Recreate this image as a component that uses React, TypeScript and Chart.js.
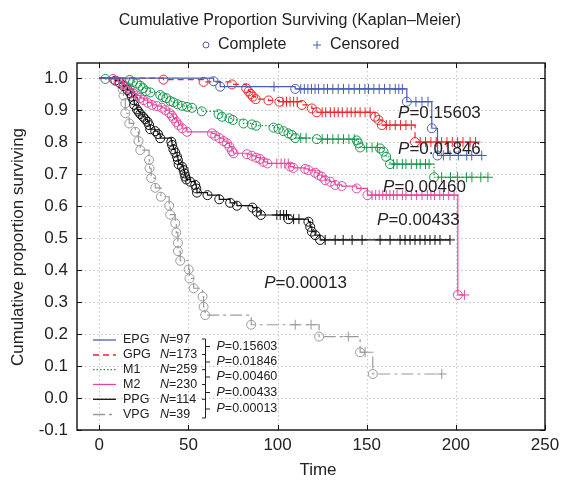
import { useEffect, useRef } from "react";
import { Chart, registerables } from "chart.js";

Chart.register(...registerables);

const FONT = '"Liberation Sans", Arial, Helvetica, sans-serif';

// ---------- axis ticks ----------
const xTicks = [0, 50, 100, 150, 200, 250];
const yTicks = [-0.1, 0.0, 0.1, 0.2, 0.3, 0.4, 0.5, 0.6, 0.7, 0.8, 0.9, 1.0];

// ---------- groups ----------
const groupNames = ["EPG", "GPG", "M1", "M2", "PPG", "VPG"];
const groupN = [97, 173, 259, 230, 114, 39];
const pValues = ["0.15603", "0.01846", "0.00460", "0.00433", "0.00013"];

// EPG
const epgEventT = [64.1, 67.8, 109.9, 172.5, 186.5, 189.7];
const epgEventS = [0.99, 0.973, 0.966, 0.926, 0.843, 0.758];
const epgCensT = [98, 113, 115, 117, 119, 121, 123, 126, 128, 131, 134, 137, 140, 143, 146, 149, 151, 154, 157, 160, 163, 166, 168, 170, 177.6, 181, 184.4, 193, 196.7, 201.4, 206.1, 208.9, 214.5];

// GPG
const gpgEventT = [36.0, 58.5, 74.4, 82.4, 83.7, 84.9, 86.2, 87.7, 94.9, 101.0, 113.6, 119.2, 122.0, 154.7, 156.6, 158.5, 177.1];
const gpgEventS = [0.995, 0.988, 0.98, 0.968, 0.958, 0.95, 0.942, 0.934, 0.93, 0.926, 0.916, 0.905, 0.893, 0.879, 0.869, 0.853, 0.8];
const gpgCensT = [103, 105, 107, 109, 111, 125, 127, 129.6, 131.8, 134, 136.3, 139, 141.3, 143.5, 146.3, 149.1, 151.9, 161, 163, 166, 169, 172, 175, 180, 183, 186, 189, 192, 195, 198, 201, 204, 208, 211];

// M1
const m1EventT = [3.4, 17.0, 18.9, 21.1, 23.0, 24.5, 26.3, 28.6, 34.2, 35.7, 37.6, 39.8, 41.6, 43.9, 46.4, 49.2, 52.0, 57.5, 66.9, 68.8, 73.0, 74.9, 80.9, 85.6, 88.0, 97.7, 100.5, 103.3, 106.1, 108.0, 109.9, 122.0, 144.4, 145.3, 146.3, 157.5, 159.4, 160.9, 163.1, 187.8];
const m1EventS = [0.997, 0.994, 0.988, 0.983, 0.976, 0.968, 0.959, 0.955, 0.947, 0.94, 0.937, 0.928, 0.924, 0.918, 0.913, 0.91, 0.907, 0.896, 0.887, 0.879, 0.874, 0.869, 0.858, 0.855, 0.851, 0.845, 0.841, 0.834, 0.827, 0.822, 0.8125, 0.809, 0.805, 0.796, 0.783, 0.78, 0.77, 0.754, 0.731, 0.69];
const m1CensT = [113, 116, 125, 128, 131, 134, 137, 140, 143, 150, 153, 156, 165, 167, 170, 172, 175, 178, 180, 183, 185, 192, 197, 201, 206, 209, 214, 218];

// M2
const m2EventT = [7.7, 10.8, 13.6, 15.5, 17.0, 19.2, 21.1, 23.0, 24.8, 27.1, 29.5, 32.3, 35.1, 37.0, 39.4, 40.8, 41.6, 43.2, 44.5, 46.4, 49.2, 63.2, 65.0, 67.4, 69.7, 71.6, 73.0, 74.4, 75.3, 82.8, 85.6, 88.0, 90.2, 92.1, 94.3, 107.1, 108.9, 115.5, 117.3, 121.1, 122.9, 124.8, 126.7, 129.5, 132.3, 136.0, 144.4, 150.4, 201.1];
const m2EventS = [0.997, 0.988, 0.98, 0.973, 0.966, 0.952, 0.945, 0.938, 0.931, 0.923, 0.916, 0.9125, 0.907, 0.9, 0.89, 0.882, 0.874, 0.863, 0.853, 0.843, 0.832, 0.827, 0.82, 0.812, 0.803, 0.796, 0.785, 0.772, 0.765, 0.762, 0.757, 0.751, 0.747, 0.738, 0.733, 0.723, 0.719, 0.716, 0.7125, 0.704, 0.697, 0.692, 0.681, 0.676, 0.666, 0.6625, 0.655, 0.634, 0.322];
const m2CensT = [99.6, 102, 104, 106, 153, 155, 157, 159, 161, 163, 165, 167, 170, 172, 175, 178, 181, 184, 186, 188, 191, 193, 196, 199, 204.8];

// PPG
const ppgEventT = [9.0, 11.4, 13.6, 15.9, 17.4, 18.3, 19.2, 19.6, 21.1, 22.0, 23.0, 24.5, 25.8, 27.1, 28.0, 28.6, 31.4, 32.9, 34.2, 40.4, 40.8, 41.6, 42.6, 43.6, 44.1, 44.5, 46.4, 47.3, 47.8, 48.2, 48.8, 51.0, 53.8, 54.4, 54.8, 60.7, 67.3, 73.4, 77.2, 85.9, 88.4, 90.6, 106.1, 117.3, 118.3, 119.2, 121.1, 123.9];
const ppgEventS = [0.992, 0.985, 0.975, 0.9625, 0.952, 0.942, 0.931, 0.916, 0.902, 0.895, 0.8875, 0.879, 0.871, 0.863, 0.853, 0.84, 0.834, 0.825, 0.812, 0.801, 0.791, 0.777, 0.767, 0.754, 0.744, 0.73, 0.723, 0.7125, 0.702, 0.692, 0.683, 0.676, 0.666, 0.655, 0.642, 0.634, 0.621, 0.61, 0.601, 0.595, 0.582, 0.572, 0.559, 0.551, 0.535, 0.52, 0.509, 0.494];
const ppgCensT = [99.6, 101.5, 103.4, 105.0, 109, 112, 126.7, 132.3, 136.8, 141.8, 147.4, 157.5, 163.1, 168.7, 171.5, 174.3, 177.1, 179.9, 182.7, 185.5, 188.3, 191.1, 196.7];

// VPG
const vpgEventT = [13.1, 13.6, 14.6, 14.6, 16.8, 20.2, 22.0, 23.0, 27.9, 28.2, 29.1, 31.4, 34.6, 39.2, 39.8, 42.6, 43.2, 44.1, 44.1, 45.4, 50.1, 50.6, 52.9, 57.9, 58.5, 59.4, 85.2, 123.3, 146.3, 153.4];
const vpgEventS = [0.965, 0.946, 0.921, 0.89, 0.858, 0.832, 0.803, 0.775, 0.744, 0.718, 0.6875, 0.657, 0.629, 0.601, 0.573, 0.546, 0.517, 0.485, 0.459, 0.429, 0.402, 0.374, 0.343, 0.317, 0.285, 0.259, 0.229, 0.192, 0.143, 0.075];
const vpgCensT = [109.9, 118.8, 139.7, 149.1, 192.1];

// styles
const groupColors = ["#4a5db5", "#e8262b", "#16974a", "#e2499e", "#111111", "#9a9a9a"];
const groupDash = [[], [6, 4], [1.5, 2], [], [], [12, 4, 3, 4]];

// annotation positions (data coords of left / middle of text)
const pLabelT = [167.6, 167.6, 159.2, 155.8, 92.5];
const pLabelS = [0.891, 0.778, 0.659, 0.556, 0.359];

type Pt = { x: number; y: number; k: number };

function buildCurve(eT: number[], eS: number[], cT: number[]): Pt[] {
  const items: Pt[] = [
    ...eT.map((t, i) => ({ x: t, y: eS[i], k: 1 })),
    ...cT.map((t) => ({ x: t, y: NaN, k: 2 })),
  ].sort((a, b) => a.x - b.x || a.k - b.k);
  const pts: Pt[] = [{ x: 0, y: 1, k: 0 }];
  let level = 1;
  for (const it of items) {
    if (it.k === 1) level = it.y;
    else it.y = level;
    pts.push(it);
  }
  return pts;
}

const curves = [
  buildCurve(epgEventT, epgEventS, epgCensT),
  buildCurve(gpgEventT, gpgEventS, gpgCensT),
  buildCurve(m1EventT, m1EventS, m1CensT),
  buildCurve(m2EventT, m2EventS, m2CensT),
  buildCurve(ppgEventT, ppgEventS, ppgCensT),
  buildCurve(vpgEventT, vpgEventS, vpgCensT),
];

function drawItalicLead(ctx: CanvasRenderingContext2D, lead: string, rest: string, x: number, y: number, size: number) {
  ctx.font = `italic ${size}px ${FONT}`;
  ctx.fillText(lead, x, y);
  const w = ctx.measureText(lead).width;
  ctx.font = `${size}px ${FONT}`;
  ctx.fillText(rest, x + w, y);
}

const decorPlugin = {
  id: "decor",
  beforeDatasetsDraw(chart: any) {
    const ctx: CanvasRenderingContext2D = chart.ctx;
    const { left, right, top, bottom } = chart.chartArea;
    const xs = chart.scales.x;
    const ys = chart.scales.y;
    ctx.save();
    ctx.strokeStyle = "#c4c4c4";
    ctx.lineWidth = 1;
    ctx.setLineDash([1.5, 2.5]);
    for (const v of xTicks) {
      const px = Math.round(xs.getPixelForValue(v)) + 0.5;
      ctx.beginPath();
      ctx.moveTo(px, top);
      ctx.lineTo(px, bottom);
      ctx.stroke();
    }
    for (const v of yTicks) {
      const py = Math.round(ys.getPixelForValue(v)) + 0.5;
      ctx.beginPath();
      ctx.moveTo(left, py);
      ctx.lineTo(right, py);
      ctx.stroke();
    }
    ctx.restore();
  },
  afterDatasetsDraw(chart: any) {
    const ctx: CanvasRenderingContext2D = chart.ctx;
    const { left, right, top, bottom } = chart.chartArea;
    const xs = chart.scales.x;
    const ys = chart.scales.y;
    ctx.save();
    // border
    ctx.setLineDash([]);
    ctx.strokeStyle = "#111";
    ctx.lineWidth = 1.4;
    ctx.strokeRect(left, top, right - left, bottom - top);
    // inward ticks
    ctx.lineWidth = 1;
    const tl = 5;
    for (const v of xTicks) {
      const px = Math.round(xs.getPixelForValue(v)) + 0.5;
      ctx.beginPath();
      ctx.moveTo(px, bottom);
      ctx.lineTo(px, bottom - tl);
      ctx.moveTo(px, top);
      ctx.lineTo(px, top + tl);
      ctx.stroke();
    }
    for (const v of yTicks) {
      const py = Math.round(ys.getPixelForValue(v)) + 0.5;
      ctx.beginPath();
      ctx.moveTo(left, py);
      ctx.lineTo(left + tl, py);
      ctx.moveTo(right, py);
      ctx.lineTo(right - tl, py);
      ctx.stroke();
    }
    // P annotations in the plot
    ctx.fillStyle = "#222";
    ctx.textBaseline = "middle";
    ctx.textAlign = "left";
    pValues.forEach((p, i) => {
      const px = xs.getPixelForValue(pLabelT[i]);
      const py = ys.getPixelForValue(pLabelS[i]);
      drawItalicLead(ctx, "P", "=" + p, px, py, 17);
    });

    // inner legend
    const rowY = [340, 355, 369.7, 384.5, 399.3, 414.5];
    groupNames.forEach((name, i) => {
      const y = rowY[i];
      ctx.strokeStyle = groupColors[i];
      ctx.lineWidth = 1.3;
      ctx.setLineDash(groupDash[i]);
      ctx.beginPath();
      ctx.moveTo(93, y);
      ctx.lineTo(116, y);
      ctx.stroke();
      ctx.setLineDash([]);
      ctx.fillStyle = "#222";
      ctx.font = `12.5px ${FONT}`;
      ctx.fillText(name, 123, y);
      drawItalicLead(ctx, "N", "=" + groupN[i], 160, y, 12.5);
    });
    // bracket
    ctx.strokeStyle = "#222";
    ctx.lineWidth = 1;
    ctx.setLineDash([]);
    const bx = 205.5;
    ctx.beginPath();
    ctx.moveTo(202, 339);
    ctx.lineTo(bx, 339);
    ctx.lineTo(bx, 418);
    ctx.lineTo(202, 418);
    for (const y of [354.5, 369.7, 384.5, 399.3]) {
      ctx.moveTo(202, y);
      ctx.lineTo(bx, y);
    }
    const pRowY = [346.5, 362, 377, 392.5, 409];
    for (const y of pRowY) {
      ctx.moveTo(bx, y);
      ctx.lineTo(210, y);
    }
    ctx.stroke();
    pValues.forEach((p, i) => {
      drawItalicLead(ctx, "P", "=" + p, 216.5, pRowY[i], 12.5);
    });
    ctx.restore();
  },
  afterDraw(chart: any) {
    const ctx: CanvasRenderingContext2D = chart.ctx;
    ctx.save();
    ctx.fillStyle = "#222";
    ctx.textBaseline = "middle";
    ctx.textAlign = "center";
    ctx.font = `16px ${FONT}`;
    ctx.fillText("Cumulative Proportion Surviving (Kaplan\u2013Meier)", 290, 21);
    // symbol legend
    ctx.strokeStyle = groupColors[0];
    ctx.lineWidth = 1;
    ctx.beginPath();
    ctx.arc(206, 45, 3, 0, Math.PI * 2);
    ctx.stroke();
    ctx.beginPath();
    ctx.moveTo(313, 45);
    ctx.lineTo(321, 45);
    ctx.moveTo(317, 41);
    ctx.lineTo(317, 49);
    ctx.stroke();
    ctx.textAlign = "left";
    ctx.fillText("Complete", 218, 45);
    ctx.fillText("Censored", 330, 45);
    // axis titles
    ctx.font = `17px ${FONT}`;
    ctx.textAlign = "center";
    ctx.fillText("Time", 318, 470);
    ctx.translate(18, 247);
    ctx.rotate(-Math.PI / 2);
    ctx.fillText("Cumulative proportion surviving", 0, 0);
    ctx.restore();
  },
};

export default function App() {
  const ref = useRef<HTMLCanvasElement>(null);
  useEffect(() => {
    const datasets = curves.map((pts, i) => ({
      label: groupNames[i],
      data: pts.map((p) => ({ x: p.x, y: p.y })),
      borderColor: groupColors[i],
      borderDash: groupDash[i],
      borderWidth: 1.2,
      stepped: "before" as const,
      fill: false,
      pointStyle: pts.map((p) => (p.k === 2 ? "cross" : "circle")),
      pointRadius: pts.map((p) => (p.k === 0 ? 0 : p.k === 2 ? 5 : 4.5)),
      pointHoverRadius: pts.map((p) => (p.k === 0 ? 0 : p.k === 2 ? 5 : 4.5)),
      pointBorderColor: groupColors[i],
      pointBackgroundColor: "rgba(0,0,0,0)",
      pointBorderWidth: 1,
    }));
    const chart = new Chart(ref.current as HTMLCanvasElement, {
      type: "line",
      data: { datasets },
      options: {
        animation: false,
        responsive: false,
        events: [],
        layout: { padding: { top: 63, right: 16, left: 0, bottom: 0 } },
        plugins: {
          legend: { display: false },
          tooltip: { enabled: false },
          title: { display: false },
        },
        scales: {
          x: {
            type: "linear",
            min: -12.5,
            max: 250,
            grid: { display: false, drawTicks: false },
            border: { display: false },
            afterBuildTicks: (s: any) => {
              s.ticks = xTicks.map((v) => ({ value: v }));
            },
            afterFit: (s: any) => {
              s.height = 52;
              s.paddingLeft = 0;
              s.paddingRight = 0;
            },
            ticks: {
              font: { family: FONT, size: 17 },
              color: "#222",
              padding: 5,
              maxRotation: 0,
              autoSkip: false,
              callback: (v: any) => String(v),
            },
          },
          y: {
            type: "linear",
            min: -0.1,
            max: 1.047,
            grid: { display: false, drawTicks: false },
            border: { display: false },
            afterBuildTicks: (s: any) => {
              s.ticks = yTicks.map((v) => ({ value: v }));
            },
            afterFit: (s: any) => {
              s.width = 77;
              s.paddingTop = 0;
              s.paddingBottom = 0;
            },
            ticks: {
              font: { family: FONT, size: 17 },
              color: "#222",
              padding: 9,
              autoSkip: false,
              callback: (v: any) => Number(v).toFixed(1),
            },
          },
        },
      },
      plugins: [decorPlugin],
    });
    return () => chart.destroy();
  }, []);
  return (
    <div style={{ position: "fixed", left: 0, top: 0, width: 561, height: 482, background: "#fff" }}>
      <canvas ref={ref} width={561} height={482} style={{ display: "block", width: 561, height: 482 }} />
    </div>
  );
}
